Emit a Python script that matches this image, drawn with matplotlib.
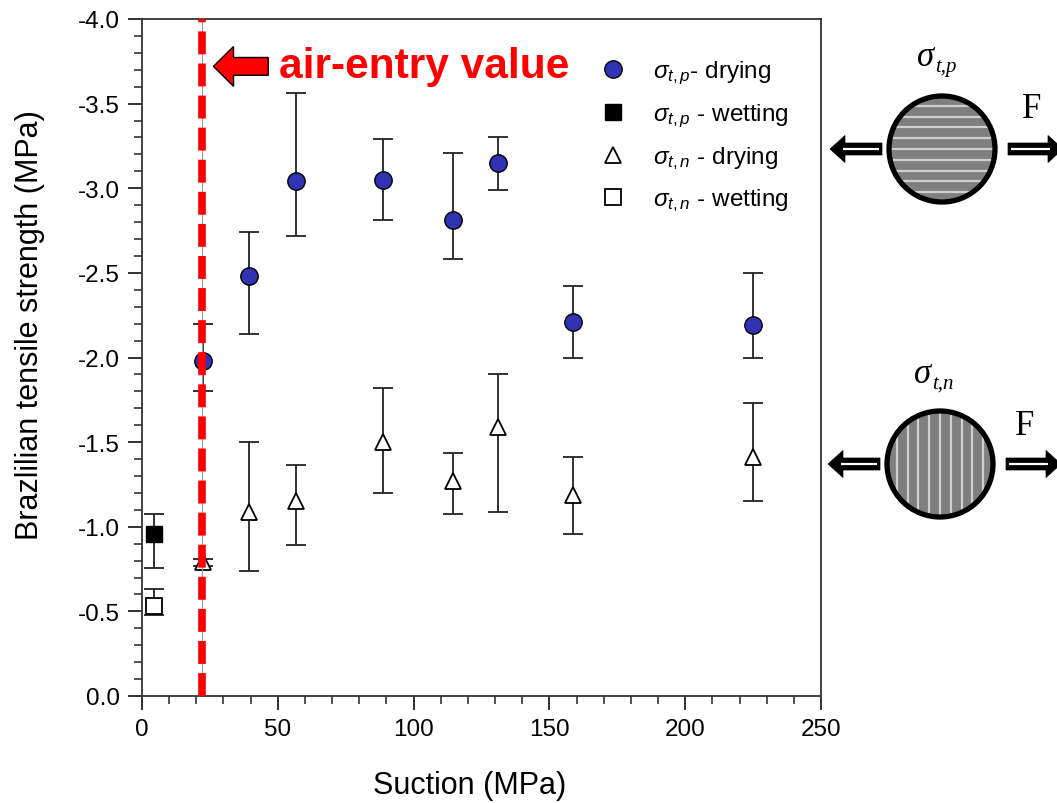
import numpy as np
import matplotlib
matplotlib.use('Agg')
import matplotlib.pyplot as plt
from matplotlib.patches import Circle, Polygon, FancyArrow
from matplotlib.ticker import MultipleLocator, FormatStrFormatter

plt.rcParams['font.family'] = ['Liberation Sans', 'DejaVu Sans']
plt.rcParams['mathtext.fontset'] = 'custom'
plt.rcParams['mathtext.it'] = 'Liberation Sans:italic'
plt.rcParams['mathtext.rm'] = 'Liberation Sans'
plt.rcParams['axes.unicode_minus'] = False

# Data (suction in MPa, strength in MPa; lo/hi = error bar ends)
AEV = 22
suction_dry = [22.3, 39.4, 56.7, 88.8, 114.6, 131.2, 158.8, 225.1]
p_dry = [-1.98, -2.48, -3.04, -3.05, -2.81, -3.15, -2.21, -2.19]
p_dry_lo = [-2.20, -2.74, -3.56, -3.29, -3.21, -3.30, -2.42, -2.50]
p_dry_hi = [-1.80, -2.14, -2.72, -2.81, -2.58, -2.99, -2.00, -2.00]

n_dry = [-0.79, -1.09, -1.15, -1.50, -1.27, -1.59, -1.19, -1.41]
n_dry_lo = [-0.81, -1.50, -1.365, -1.82, -1.435, -1.90, -1.41, -1.73]
n_dry_hi = [-0.77, -0.74, -0.89, -1.20, -1.075, -1.09, -0.96, -1.15]

suction_wet = [4.4]
p_wet = [-0.96]
p_wet_lo = [-1.075]
p_wet_hi = [-0.755]
n_wet = [-0.53]
n_wet_lo = [-0.63]
n_wet_hi = [-0.48]

BLUE = '#3232b4'
EBAR = '#222222'


def yerr(y, lo, hi):
    y, lo, hi = np.array(y), np.array(lo), np.array(hi)
    return [y - lo, hi - y]


W, H = 1057, 804
fig = plt.figure(figsize=(W / 100, H / 100), dpi=100)
ax = fig.add_axes([142 / W, 1 - 697 / H, (821 - 142) / W, (697 - 20) / H])

eb_kw = dict(fmt='none', ecolor=EBAR, elinewidth=1.3, capsize=7.5, capthick=1.3, zorder=2)
ax.errorbar(suction_dry, p_dry, yerr=yerr(p_dry, p_dry_lo, p_dry_hi), **eb_kw)
ax.errorbar(suction_dry, n_dry, yerr=yerr(n_dry, n_dry_lo, n_dry_hi), **eb_kw)
ax.errorbar(suction_wet, p_wet, yerr=yerr(p_wet, p_wet_lo, p_wet_hi), **eb_kw)
ax.errorbar(suction_wet, n_wet, yerr=yerr(n_wet, n_wet_lo, n_wet_hi), **eb_kw)

h1, = ax.plot(suction_dry, p_dry, 'o', ms=12.5, mfc=BLUE, mec='black', mew=1.0,
              ls='none', zorder=3, label=r'$\sigma_{t,p}$- drying')
h2, = ax.plot(suction_wet, p_wet, 's', ms=11, mfc='black', mec='black', mew=1.0,
              ls='none', zorder=3, label=r'$\sigma_{t,p}$ - wetting')
h3, = ax.plot(suction_dry, n_dry, '^', ms=12, mfc='white', mec='black', mew=1.3,
              ls='none', zorder=3, label=r'$\sigma_{t,n}$ - drying')
h4, = ax.plot(suction_wet, n_wet, 's', ms=11, mfc='white', mec='black', mew=1.3,
              ls='none', zorder=3, label=r'$\sigma_{t,n}$ - wetting')

# air-entry value line
ax.axvline(AEV, color='#999999', lw=0.8, zorder=4)
ax.axvline(AEV, color='#ff0000', lw=5.5, dashes=(3.0, 1.2), zorder=5)
ax.add_patch(FancyArrow(46.5, -3.72, -20.2, 0, width=0.105, head_width=0.235,
                        head_length=7.4, length_includes_head=True,
                        fc='#ff0000', ec='black', lw=1.0, zorder=6))
ax.text(50.5, -3.72, 'air-entry value', color='#ff0000', fontsize=30.6,
        fontweight='bold', va='center', ha='left', zorder=6)

ax.set_xlim(0, 250)
ax.set_ylim(0, -4)
ax.xaxis.set_major_locator(MultipleLocator(50))
ax.xaxis.set_minor_locator(MultipleLocator(10))
ax.yaxis.set_major_locator(MultipleLocator(0.5))
ax.yaxis.set_minor_locator(MultipleLocator(0.1))
ax.yaxis.set_major_formatter(FormatStrFormatter('%.1f'))
ax.tick_params(which='major', direction='out', length=10, width=1.3, labelsize=17.5,
               color='#222222', pad=6)
ax.tick_params(which='minor', direction='out', length=6, width=1.1, color='#222222')
for s in ax.spines.values():
    s.set_linewidth(1.3)
    s.set_color('#333333')
ax.set_xlabel('Suction (MPa)', fontsize=22)
ax.set_ylabel('Brazlilian tensile strength (MPa)', fontsize=22)
ax.xaxis.set_label_coords(0.483, -0.11)
ax.yaxis.set_label_coords(-0.143, 0.549)

leg = ax.legend(handles=[h1, h2, h3, h4], loc='upper left',
                bbox_to_anchor=(601 / W, 1 - 60 / H), bbox_transform=fig.transFigure,
                frameon=False, fontsize=17.5, handlelength=0.95, handletextpad=1.2,
                labelspacing=0.63, borderpad=0, borderaxespad=0)

# specimen sketches on the right
ov = fig.add_axes([0, 0, 1, 1])
ov.set_xlim(0, W)
ov.set_ylim(H, 0)
ov.axis('off')
ov.patch.set_alpha(0)


def block_arrow(tail, tip, y):
    s = np.sign(tip - tail)
    base = tip - s * 15
    pts = [(tail, y - 6), (base, y - 6), (base, y - 13.5), (tip, y),
           (base, y + 13.5), (base, y + 6), (tail, y + 6)]
    ov.add_patch(Polygon(pts, closed=True, fc='black', ec='black', lw=0.5))
    ov.plot([tail + s * 3, base + s * 2], [y, y], color='white', lw=1.6,
            solid_capstyle='butt')


def specimen(cx, cy, sub, lx, ly, fx, fy, vertical):
    r = 53
    ov.add_patch(Circle((cx, cy), r, fc='#7f7f7f', ec='none', zorder=1))
    clip = Circle((cx, cy), r, transform=ov.transData)
    for k in np.arange(-5, 6) * 10.8:
        if vertical:
            ln, = ov.plot([cx + k, cx + k], [cy - r, cy + r], color='#d0d0d0', lw=1.6, zorder=2)
        else:
            ln, = ov.plot([cx - r, cx + r], [cy + k, cy + k], color='#d0d0d0', lw=1.6, zorder=2)
        ln.set_clip_path(clip)
    ov.add_patch(Circle((cx, cy), r, fc='none', ec='black', lw=3.8, zorder=3))
    block_arrow(cx - r - 7, cx - r - 59, cy)
    block_arrow(cx + r + 13, cx + r + 68, cy)
    ov.text(lx, ly, '\u03c3', fontsize=25, family='Liberation Serif', style='italic',
            ha='right', va='baseline')
    ov.text(lx + 1, ly + 6, sub, fontsize=15, family='Liberation Serif', style='italic',
            ha='left', va='baseline')
    ov.text(fx, fy, 'F', fontsize=25, family='Liberation Serif', ha='center', va='baseline')


specimen(942, 150, 't,p', 934, 66, 1032, 118, vertical=False)
specimen(940, 465, 't,n', 931, 383, 1025, 435, vertical=True)

fig.savefig('out.png', dpi=100)
plt.close()
